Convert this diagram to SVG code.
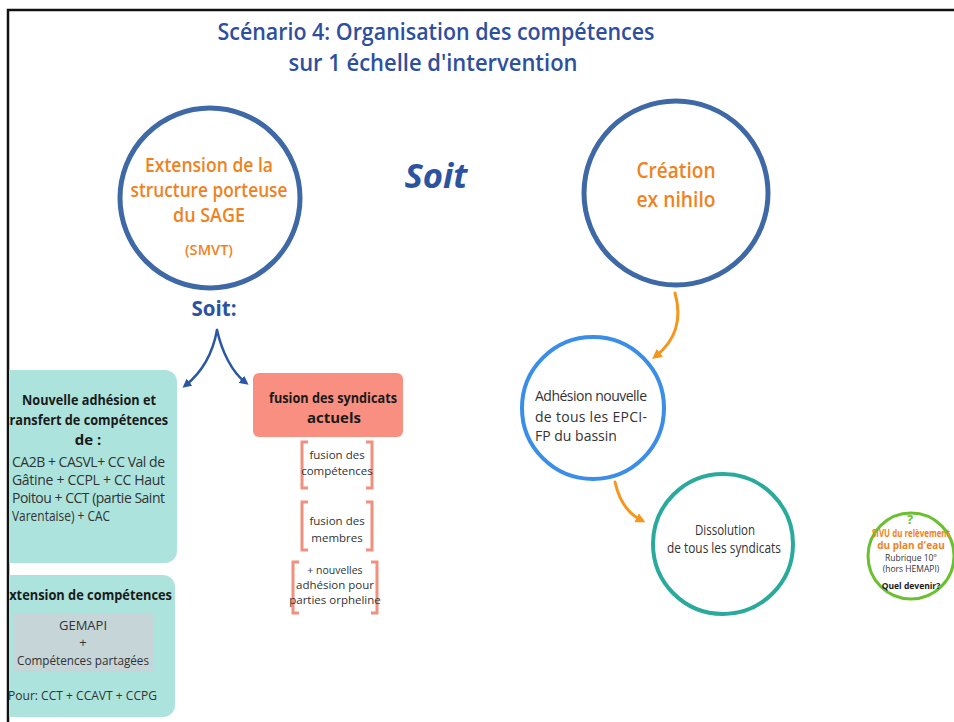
<svg xmlns="http://www.w3.org/2000/svg" width="954" height="722" viewBox="0 0 954 722">
<style>
.title{font-family:"Open Sans","Liberation Sans",sans-serif;font-weight:600;fill:#2e4f9e;font-size:24px;text-anchor:middle}
.or{font-family:"Open Sans","Liberation Sans",sans-serif;font-weight:600;fill:#f0821e;text-anchor:middle}
.bl{font-family:"Open Sans","Liberation Sans",sans-serif;font-weight:700;fill:#2b53a0;text-anchor:middle}
.bk{font-family:"Open Sans","Liberation Sans",sans-serif;font-weight:700;fill:#1a1a1a;text-anchor:middle;font-size:15px}
.tx{font-family:"Open Sans","Liberation Sans",sans-serif;fill:#333;font-size:14px}
.sm{font-family:"Open Sans","Liberation Sans",sans-serif;fill:#333;font-size:11.5px;text-anchor:middle}
.ring{fill:none;stroke:#3e68a6;stroke-width:5}
.br{fill:none;stroke:#f0907f;stroke-width:3}
.teal{fill:#ace3dc}
</style>
<defs>
<marker id="ao" markerWidth="10" markerHeight="10" refX="5" refY="5" orient="auto" markerUnits="userSpaceOnUse" viewBox="0 0 10 10"><path d="M0,0 L10,5 L0,10 z" fill="#f5961e"/></marker>
<marker id="ab" markerWidth="9" markerHeight="9" refX="5" refY="5" orient="auto" markerUnits="userSpaceOnUse" viewBox="0 0 10 10"><path d="M0,0 L10,5 L0,10 z" fill="#2a57a5"/></marker>
<clipPath id="cl"><rect x="9" y="0" width="945" height="722"/></clipPath>
</defs>
<rect width="954" height="722" fill="#fff"/>
<path d="M8,722 V10 H954" fill="none" stroke="#111" stroke-width="2.5"/>

<g id="title">
<text class="title" x="436" y="40" textLength="437" lengthAdjust="spacingAndGlyphs">Scénario 4: Organisation des compétences</text>
<text class="title" x="433" y="71" textLength="289" lengthAdjust="spacingAndGlyphs">sur 1 échelle d'intervention</text>
</g>

<g id="soit-main"><text class="bl" x="436" y="188" font-size="34" font-style="italic" textLength="63" lengthAdjust="spacingAndGlyphs">Soit</text></g>

<g id="extension">
<circle class="ring" cx="210" cy="198" r="90"/>
<text class="or" x="209" y="172" font-size="19" textLength="128" lengthAdjust="spacingAndGlyphs">Extension de la</text>
<text class="or" x="209" y="197" font-size="19" textLength="157" lengthAdjust="spacingAndGlyphs">structure porteuse</text>
<text class="or" x="209" y="222" font-size="19" textLength="72" lengthAdjust="spacingAndGlyphs">du SAGE</text>
<text class="or" x="209" y="255" font-size="14" textLength="48" lengthAdjust="spacingAndGlyphs">(SMVT)</text>
</g>

<g id="soit-sub"><text class="bl" x="214" y="316" font-size="22" textLength="45" lengthAdjust="spacingAndGlyphs">Soit:</text></g>

<g id="creation">
<circle class="ring" cx="676" cy="193" r="92"/>
<text class="or" x="676" y="178" font-size="22" textLength="79" lengthAdjust="spacingAndGlyphs">Création</text>
<text class="or" x="676" y="207" font-size="22" textLength="79" lengthAdjust="spacingAndGlyphs">ex nihilo</text>
</g>

<g id="nouvelle-adhesion" clip-path="url(#cl)">
<rect class="teal" x="-20" y="370" width="197" height="193" rx="12"/>
<text class="bk" x="89" y="405" textLength="134" lengthAdjust="spacingAndGlyphs">Nouvelle adhésion et</text>
<text class="bk" x="86" y="425" textLength="164" lengthAdjust="spacingAndGlyphs">transfert de compétences</text>
<text class="bk" x="88" y="445">de :</text>
<text class="tx" x="12" y="467" textLength="153" lengthAdjust="spacing">CA2B + CASVL+ CC Val de</text>
<text class="tx" x="12" y="485" textLength="153" lengthAdjust="spacing">Gâtine + CCPL + CC Haut</text>
<text class="tx" x="12" y="503" textLength="153" lengthAdjust="spacing">Poitou + CCT (partie Saint</text>
<text class="tx" x="12" y="521" textLength="98" lengthAdjust="spacingAndGlyphs">Varentaise) + CAC</text>
</g>

<g id="extension-competences" clip-path="url(#cl)">
<rect class="teal" x="-20" y="575" width="195" height="142" rx="12"/>
<text class="bk" x="87" y="600" textLength="170" lengthAdjust="spacingAndGlyphs">Extension de compétences</text>
<rect x="13" y="613" width="140" height="59" fill="#c5d5d8"/>
<text class="tx" x="83" y="630" text-anchor="middle" style="font-size:13px">GEMAPI</text>
<text class="tx" x="83" y="647" text-anchor="middle" style="font-size:13px">+</text>
<text class="tx" x="83" y="665" text-anchor="middle" style="font-size:13px" textLength="132" lengthAdjust="spacingAndGlyphs">Compétences partagées</text>
<text class="tx" x="8" y="700" style="font-size:13px" textLength="149" lengthAdjust="spacingAndGlyphs">Pour: CCT + CCAVT + CCPG</text>
</g>

<g id="fusion">
<rect x="253" y="373" width="150" height="64" rx="6" fill="#f88f80"/>
<text class="bk" x="333" y="403" textLength="128" lengthAdjust="spacingAndGlyphs">fusion des syndicats</text>
<text class="bk" x="334" y="423">actuels</text>
</g>

<g id="fusion-competences">
<path class="br" d="M308,442 H302 V488 H308 M366,442 H372 V488 H366"/>
<text class="sm" x="337" y="459">fusion des</text>
<text class="sm" x="337" y="475">compétences</text>
</g>
<g id="fusion-membres">
<path class="br" d="M308,502 H302 V550 H308 M366,502 H372 V550 H366"/>
<text class="sm" x="337" y="525">fusion des</text>
<text class="sm" x="337" y="542">membres</text>
</g>
<g id="nouvelles-adhesion">
<path class="br" d="M299,562 H293 V613 H299 M371,562 H377 V613 H371"/>
<text class="sm" x="335" y="574" style="font-size:10.5px">+ nouvelles</text>
<text class="sm" x="335" y="589">adhésion pour</text>
<text class="sm" x="335" y="604">parties orpheline</text>
</g>

<g id="adhesion-nouvelle">
<circle cx="593" cy="408" r="71" fill="none" stroke="#3a8ee8" stroke-width="4"/>
<text class="tx" x="535" y="401" textLength="112" lengthAdjust="spacing">Adhésion nouvelle</text>
<text class="tx" x="535" y="422" textLength="112" lengthAdjust="spacing">de tous les EPCI-</text>
<text class="tx" x="535" y="441">FP du bassin</text>
</g>

<g id="dissolution">
<circle cx="723" cy="544" r="70" fill="none" stroke="#2aaa9c" stroke-width="4"/>
<text class="tx" x="725" y="535" text-anchor="middle" textLength="60" lengthAdjust="spacingAndGlyphs">Dissolution</text>
<text class="tx" x="724" y="553" text-anchor="middle" textLength="114" lengthAdjust="spacingAndGlyphs">de tous les syndicats</text>
</g>

<g id="sivu">
<circle cx="911" cy="556" r="43" fill="none" stroke="#6cc030" stroke-width="3"/>
<text x="910" y="524" text-anchor="middle" font-family="Open Sans, sans-serif" font-weight="700" font-size="13" fill="#6cc030">?</text>
<text class="or" x="911" y="537" style="font-size:10px;font-weight:700" textLength="78" lengthAdjust="spacingAndGlyphs">SIVU du relèvement</text>
<text class="or" x="911" y="549" style="font-size:10px;font-weight:700">du plan d'eau</text>
<text class="sm" x="911" y="561" style="font-size:8.5px">Rubrique 10°</text>
<text class="sm" x="911" y="572" style="font-size:8.5px">(hors HEMAPI)</text>
<text x="911" y="589" text-anchor="middle" font-family="Open Sans, sans-serif" font-weight="700" font-size="8.5" fill="#1a1a1a">Quel devenir?</text>
</g>

<g id="connectors" fill="none" stroke-linecap="round">
<path d="M675,293 C682,318 676,340 656,356" stroke="#f5961e" stroke-width="3" marker-end="url(#ao)"/>
<path d="M615,482 C619,500 627,513 641,520" stroke="#f5961e" stroke-width="3" marker-end="url(#ao)"/>
<path d="M217,330 C213,352 202,372 186,385" stroke="#2a57a5" stroke-width="2.5" marker-end="url(#ab)"/>
<path d="M217,330 C222,352 232,372 245,382" stroke="#2a57a5" stroke-width="2.5" marker-end="url(#ab)"/>
</g>
</svg>
